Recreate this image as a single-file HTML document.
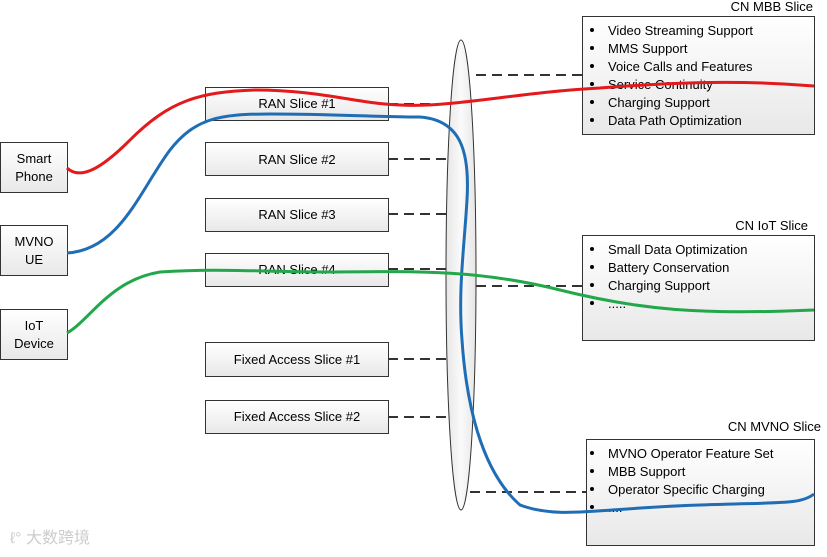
<!DOCTYPE html>
<html><head><meta charset="utf-8"><style>
body{margin:0;background:#fff;}
svg text{font-family:"Liberation Sans",sans-serif;}
</style></head><body>
<svg width="827" height="552" viewBox="0 0 827 552" xmlns="http://www.w3.org/2000/svg">
<defs>
<linearGradient id="g" x1="0" y1="0" x2="0" y2="1"><stop offset="0" stop-color="#fff"/><stop offset="1" stop-color="#e8e8e8"/></linearGradient>
<linearGradient id="e" x1="0" y1="0" x2="1" y2="0"><stop offset="0" stop-color="#e6e6e6"/><stop offset="0.5" stop-color="#fafafa"/><stop offset="1" stop-color="#e6e6e6"/></linearGradient>
</defs>
<g stroke="#333" stroke-width="1" fill="url(#g)">
<rect x="0.5" y="142.5" width="67" height="50"/>
<rect x="0.5" y="225.5" width="67" height="50"/>
<rect x="0.5" y="309.5" width="67" height="50"/>
<rect x="205.5" y="87.5" width="183" height="33"/>
<rect x="205.5" y="142.5" width="183" height="33"/>
<rect x="205.5" y="198.5" width="183" height="33"/>
<rect x="205.5" y="253.5" width="183" height="33"/>
<rect x="205.5" y="342.5" width="183" height="34"/>
<rect x="205.5" y="400.5" width="183" height="33"/>
<rect x="582.5" y="16.5" width="232" height="118"/>
<rect x="582.5" y="235.5" width="232" height="105"/>
<rect x="586.5" y="439.5" width="228" height="106"/>
</g>
<ellipse cx="461" cy="275" rx="15" ry="235" fill="url(#e)" stroke="#333"/>
<g stroke="#333" stroke-width="2" stroke-dasharray="10,6" fill="none">
<path d="M388 104H447M476 75H582M388 159H447M388 214H447M388 269H447M476 286H582M388 359H449M388 417H449M470 492H586"/>
</g>
<g font-size="13" fill="#000" text-anchor="middle">
<text x="34" y="163">Smart</text><text x="34" y="181">Phone</text>
<text x="34" y="246">MVNO</text><text x="34" y="264">UE</text>
<text x="34" y="330">IoT</text><text x="34" y="348">Device</text>
<text x="297" y="108">RAN Slice #1</text>
<text x="297" y="164">RAN Slice #2</text>
<text x="297" y="219">RAN Slice #3</text>
<text x="297" y="274">RAN Slice #4</text>
<text x="297" y="364">Fixed Access Slice #1</text>
<text x="297" y="421">Fixed Access Slice #2</text>
</g>
<g font-size="13" fill="#000" text-anchor="end">
<text x="813" y="11">CN MBB Slice</text>
<text x="808" y="230">CN IoT Slice</text>
<text x="821" y="431">CN MVNO Slice</text>
</g>
<g font-size="13" fill="#000">
<text x="608" y="35">Video Streaming Support</text>
<text x="608" y="53">MMS Support</text>
<text x="608" y="71">Voice Calls and Features</text>
<text x="608" y="89">Service Continuity</text>
<text x="608" y="107">Charging Support</text>
<text x="608" y="125">Data Path Optimization</text>
<text x="608" y="254">Small Data Optimization</text>
<text x="608" y="272">Battery Conservation</text>
<text x="608" y="290">Charging Support</text>
<text x="608" y="308">.....</text>
<text x="608" y="458">MVNO Operator Feature Set</text>
<text x="608" y="476">MBB Support</text>
<text x="608" y="494">Operator Specific Charging</text>
<text x="608" y="512">....</text>
</g>
<g fill="#000">
<circle cx="592" cy="30" r="2"/><circle cx="592" cy="48" r="2"/><circle cx="592" cy="66" r="2"/><circle cx="592" cy="84" r="2"/><circle cx="592" cy="102" r="2"/><circle cx="592" cy="120" r="2"/>
<circle cx="592" cy="249" r="2"/><circle cx="592" cy="267" r="2"/><circle cx="592" cy="285" r="2"/><circle cx="592" cy="303" r="2"/>
<circle cx="592" cy="453" r="2"/><circle cx="592" cy="471" r="2"/><circle cx="592" cy="489" r="2"/><circle cx="592" cy="507" r="2"/>
</g>
<g fill="none" stroke-width="3">
<path d="M67 168C80 180 100 170 130 140C170 100 200 92 255 90C320 90 360 104 400 105C450 108 520 92 600 88C680 82 740 80 814 86" stroke="#e3191c"/>
<path d="M67 253C120 250 140 190 170 150C195 118 220 114 270 114C330 114 380 117 420 117C460 120 470 150 467 200C464 250 458 290 462 340C466 400 480 470 520 505C560 520 600 508 700 505C780 502 800 505 814 494" stroke="#1f6db5"/>
<path d="M67 333C90 320 110 280 160 272C220 268 260 272 330 272C420 271 480 270 560 290C640 310 700 315 814 310" stroke="#22a84a"/>
</g>
<text x="10" y="543" font-size="16" fill="#ccc" font-family="'Liberation Sans','Noto Sans CJK SC',sans-serif">ℓ° 大数跨境</text>
</svg>
</body></html>
